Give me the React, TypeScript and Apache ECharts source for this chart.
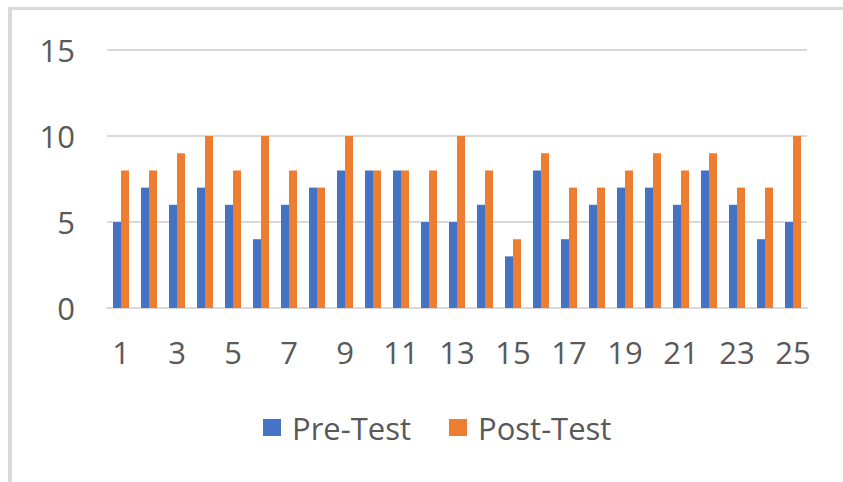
import React, { useEffect, useRef } from "react";
import * as echarts from "echarts";

const categories = ["1","2","3","4","5","6","7","8","9","10","11","12","13","14","15","16","17","18","19","20","21","22","23","24","25"];
const preTest = [5, 7, 6, 7, 6, 4, 6, 7, 8, 8, 8, 5, 5, 6, 3, 8, 4, 6, 7, 7, 6, 8, 6, 4, 5];
const postTest = [8, 8, 9, 10, 8, 10, 8, 7, 10, 8, 8, 8, 10, 8, 4, 9, 7, 7, 8, 9, 8, 9, 7, 7, 10];
const seriesNames = ["Pre-Test", "Post-Test"];

export default function App() {
  const ref = useRef<HTMLDivElement>(null);
  useEffect(() => {
    if (!ref.current) return;
    const chart = echarts.init(ref.current, undefined, { renderer: "svg" });
    const font = "'Open Sans', 'Segoe UI', sans-serif";
    chart.setOption({
      animation: false,
      backgroundColor: "#ffffff",
      textStyle: { fontFamily: font },
      graphic: [
        { type: "rect", shape: { x: 8, y: 7, width: 835, height: 3 }, style: { fill: "#d9d9d9" }, silent: true },
        { type: "rect", shape: { x: 8, y: 7, width: 4, height: 475 }, style: { fill: "#d9d9d9" }, silent: true },
      ],
      grid: { left: 107, right: 36, top: 50, bottom: 174, containLabel: false },
      legend: {
        data: seriesNames,
        bottom: 34,
        left: 258,
        itemWidth: 18,
        itemHeight: 17,
        itemGap: 38,
        icon: "rect",
        textStyle: { fontSize: 31, color: "#595959", fontFamily: font, padding: [0, 0, 0, 6] },
      },
      xAxis: {
        type: "category",
        data: categories,
        axisLine: { lineStyle: { color: "#d9d9d9", width: 2 } },
        axisTick: { show: false },
        axisLabel: { interval: 1, fontSize: 31, color: "#595959", margin: 28, fontFamily: font },
      },
      yAxis: {
        type: "value",
        min: 0,
        max: 15,
        interval: 5,
        axisLine: { show: false },
        axisTick: { show: false },
        splitLine: { lineStyle: { color: "#d9d9d9", width: 2 } },
        axisLabel: { fontSize: 31, color: "#595959", margin: 32, fontFamily: font },
      },
      series: [
        { name: seriesNames[0], type: "bar", data: preTest, barWidth: 8, barGap: "0%", itemStyle: { color: "#4472C4" } },
        { name: seriesNames[1], type: "bar", data: postTest, barWidth: 8, barGap: "0%", itemStyle: { color: "#ED7D31" } },
      ],
    });
    return () => chart.dispose();
  }, []);
  return <div ref={ref} style={{ position: "fixed", left: 0, top: 0, width: 843, height: 482 }} />;
}
